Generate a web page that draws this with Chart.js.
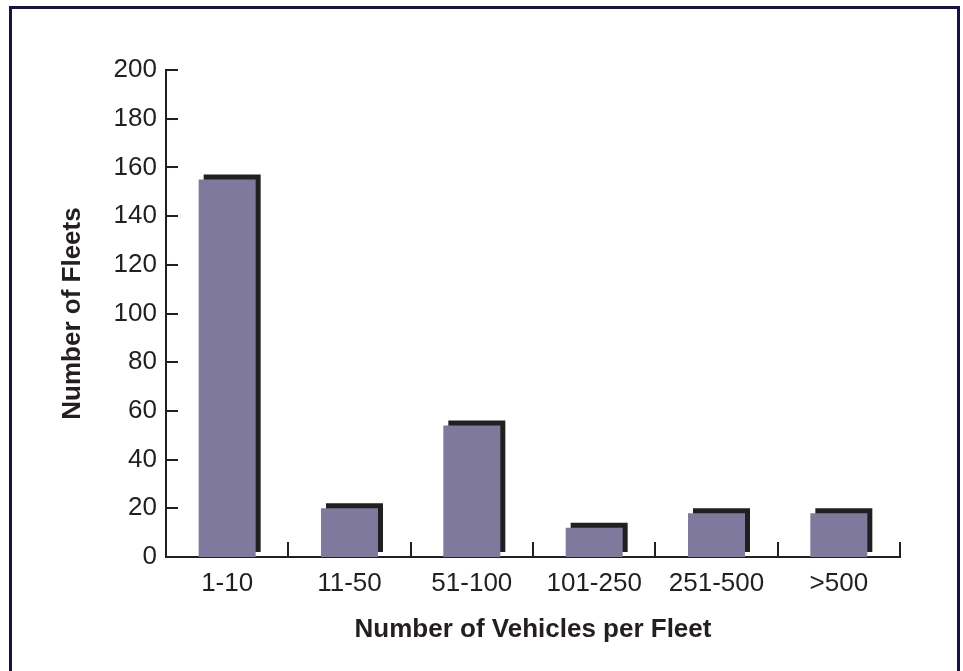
<!DOCTYPE html>
<html>
<head>
<meta charset="utf-8">
<script src="https://cdn.jsdelivr.net/npm/chart.js@4/dist/chart.umd.min.js"></script>
<style>
  html, body { margin: 0; padding: 0; background: #fff; overflow: hidden; }
  #frame {
    position: absolute; left: 9px; top: 6px; width: 945px; height: 700px;
    border: 3px solid #1b1048; border-bottom: none; pointer-events: none;
  }
  canvas { position: absolute; left: 0; top: 0; }
</style>
</head>
<body>
<canvas id="fleetChart" width="963" height="671"></canvas>
<div id="frame"></div>
<script>
// data
const categories = ['1-10', '11-50', '51-100', '101-250', '251-500', '>500'];
const fleetCounts = [155, 20, 54, 12, 18, 18];
const yTicks = [0, 20, 40, 60, 80, 100, 120, 140, 160, 180, 200];

const ink = '#231f20';
const barColor = '#7f7a9d';
const fontFamily = '"Liberation Sans", Arial, Helvetica, sans-serif';

// black drop shadow behind each bar (up and to the right)
const barShadow = {
  id: 'barShadow',
  beforeDatasetsDraw(chart) {
    const ctx = chart.ctx;
    ctx.save();
    ctx.shadowColor = ink;
    ctx.shadowBlur = 0;
    ctx.shadowOffsetX = 5;
    ctx.shadowOffsetY = -5;
  },
  afterDatasetsDraw(chart) {
    chart.ctx.restore();
  }
};

// tick marks drawn on the inside of the axes
const innerTicks = {
  id: 'innerTicks',
  afterDraw(chart) {
    const ctx = chart.ctx;
    const x = chart.scales.x;
    const y = chart.scales.y;
    ctx.save();
    ctx.strokeStyle = ink;
    ctx.lineWidth = 2;
    ctx.beginPath();
    yTicks.forEach(v => {
      const py = Math.round(y.getPixelForValue(v));
      ctx.moveTo(x.left, py);
      ctx.lineTo(x.left + 12, py);
    });
    for (let i = 0; i < categories.length; i++) {
      const px = Math.round(x.getPixelForValue(i + 0.5));
      ctx.moveTo(px, y.bottom);
      ctx.lineTo(px, y.bottom - 15);
    }
    ctx.stroke();
    ctx.restore();
  }
};

new Chart(document.getElementById('fleetChart'), {
  type: 'bar',
  data: {
    labels: categories,
    datasets: [{
      data: fleetCounts,
      backgroundColor: barColor,
      borderWidth: 0,
      barPercentage: 0.466,
      categoryPercentage: 1
    }]
  },
  options: {
    responsive: false,
    animation: false,
    layout: { padding: { left: 0, top: 70, right: 63, bottom: 0 } },
    plugins: { legend: { display: false }, tooltip: { enabled: false } },
    scales: {
      x: {
        grid: { display: false, drawTicks: false },
        border: { display: true, color: ink, width: 2 },
        ticks: { color: ink, padding: 11, font: { family: fontFamily, size: 26 } },
        title: {
          display: true,
          text: 'Number of Vehicles per Fleet',
          color: ink,
          font: { family: fontFamily, size: 26, weight: 'bold' },
          padding: { top: 0, bottom: 26 }
        },
        afterFit(scale) { scale.height = 114; }
      },
      y: {
        min: 0,
        max: 200,
        grid: { display: false, drawTicks: false },
        border: { display: true, color: ink, width: 2 },
        afterBuildTicks(scale) { scale.ticks = yTicks.map(v => ({ value: v })); },
        ticks: { color: ink, padding: 9, font: { family: fontFamily, size: 26 } },
        title: {
          display: true,
          text: 'Number of Fleets',
          color: ink,
          font: { family: fontFamily, size: 26, weight: 'bold' },
          padding: { top: 57, bottom: 0 }
        },
        afterFit(scale) { scale.width = 166; }
      }
    }
  },
  plugins: [barShadow, innerTicks]
});
</script>
</body>
</html>
